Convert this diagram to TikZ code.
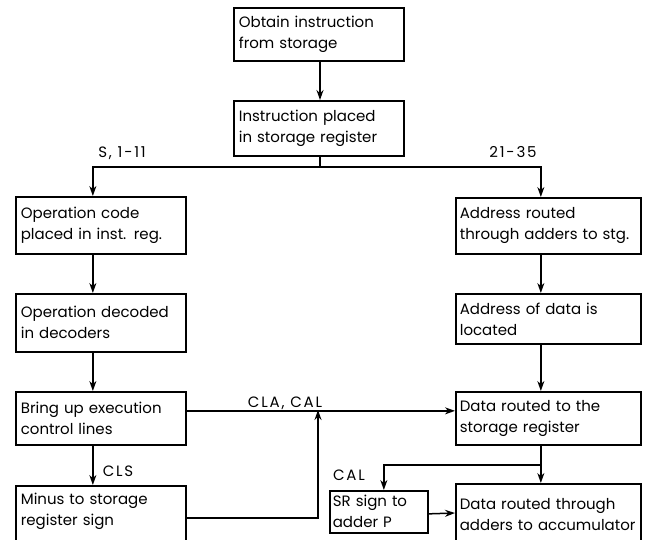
\documentclass[tikz,border=0pt]{standalone}
\usepackage{fontspec}
\setmainfont{Poppins}
\usetikzlibrary{arrows.meta}
\begin{document}
\begin{tikzpicture}[x=1pt,y=-1pt,
  box/.style={draw, line width=1.7pt, anchor=north west, inner sep=0pt,
    align=left, font=\fontsize{15}{21}\selectfont},
  wire/.style={line width=1.5pt},
  arr/.style={wire, -{Stealth[length=10pt,width=7pt]}},
  lbl/.style={font=\fontsize{15}{18}\selectfont\addfontfeature{LetterSpace=12}, inner sep=0pt}]
\useasboundingbox (0,0) rectangle (646,539);
\clip (0,0) rectangle (646,539);

% process boxes
\node[box, minimum width=170pt, minimum height=53pt, text width=160pt] (b1) at (233,7)
  {Obtain instruction\\from storage};
\node[box, minimum width=170pt, minimum height=55pt, text width=160pt] (b2) at (233,100)
  {Instruction placed\\in storage register};
\node[box, minimum width=170pt, minimum height=57pt, text width=160pt] (b3) at (15,196)
  {Operation code\\placed in inst. reg.};
\node[box, minimum width=185pt, minimum height=56pt, text width=177pt] (b4) at (455,197)
  {Address routed\\through adders to stg.};
\node[box, minimum width=170pt, minimum height=58pt, text width=160pt] (b5) at (15,293)
  {Operation decoded\\in decoders};
\node[box, minimum width=185pt, minimum height=50pt, text width=177pt] (b6) at (455,293)
  {Address of data is\\located};
\node[box, minimum width=170pt, minimum height=53pt, text width=160pt] (b7) at (15,391)
  {Bring up execution\\control lines};
\node[box, minimum width=185pt, minimum height=53pt, text width=177pt] (b8) at (455,391)
  {Data routed to the\\storage register};
% the two lowest boxes run past the lower edge
\node[box, minimum width=170pt, text width=160pt] (b9) at (15,485)
  {\parbox[c][70pt][t]{160pt}{\vspace*{7pt}Minus to storage\\register sign}};
\node[box, minimum width=98pt, minimum height=42pt, text width=92pt] (b10) at (329,490)
  {SR sign to\\adder P};
\node[box, minimum width=185pt, text width=177pt] (b11) at (455,483)
  {\parbox[c][70pt][t]{177pt}{\vspace*{15pt}Data routed through\\adders to accumulator}};

% junction points
\coordinate (split) at (320,167);
\coordinate (join) at (318,410);
\coordinate (branch) at (540,465);

% connectors
\draw[arr] (b1.south -| split) -- (b2.north -| split);
\draw[wire] (b2.south -| split) -- (split);
\draw[arr] (split) -| ([xshift=-8pt]b3.north);
\draw[arr] (split) -| ([xshift=-7.5pt]b4.north);
\draw[arr] ([xshift=-8pt]b3.south) -- ([xshift=-8pt]b5.north);
\draw[arr] ([xshift=-8pt]b5.south) -- ([xshift=-8pt]b7.north);
\draw[arr] ([xshift=-8pt]b7.south) -- ([xshift=-8pt]b9.north);
\draw[arr] ([xshift=-7.5pt]b4.south) -- ([xshift=-7.5pt]b6.north);
\draw[arr] ([xshift=-7.5pt]b6.south) -- ([xshift=-7.5pt]b8.north);
\draw[arr] ([yshift=7.5pt]b7.east) -- ([yshift=7.5pt]b8.west);
\draw[arr] (b9.east |- 0,518) -| (join);
\draw[arr] ([xshift=-7.5pt]b8.south) -- ([xshift=-7.5pt]b11.north);
\draw[arr] (branch) -| ([xshift=5pt]b10.north);
\draw[arr] ([yshift=-2pt]b10.east) -- (b11.west |- 0,513);

% signal labels
\node[lbl] (l1) at (122,153) {S, 1-11};
\node[lbl] (l2) at (513,152) {21-35};
\node[lbl] (l3) at (285,403) {CLA, CAL};
\node[lbl] (l4) at (118,471) {CLS};
\node[lbl] (l5) at (349,475) {CAL};
\end{tikzpicture}
\end{document}
